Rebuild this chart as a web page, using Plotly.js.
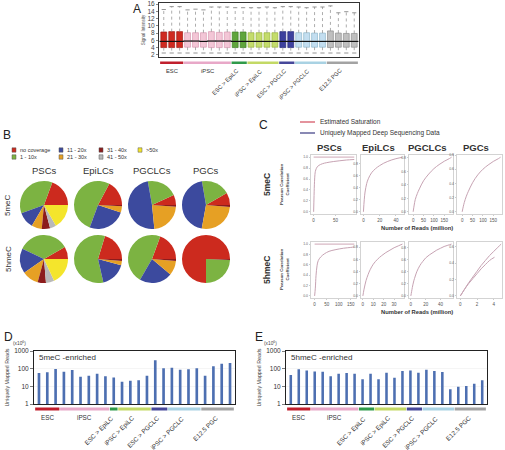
<!DOCTYPE html>
<html><head><meta charset="utf-8">
<script src="https://cdn.plot.ly/plotly-3.0.1.min.js"></script>
<style>body{margin:0;padding:0;background:#fff}#chart{width:505px;height:450px}</style>
</head><body><div id="chart"></div>
<script>
// ---------- Panel A: array signal intensity (box statistics) ----------
const groupNames = ["ESC","iPSC","ESC > EpiLC","iPSC > EpiLC","ESC > PGCLC","iPSC > PGCLC","E12.5 PGC"];
const groupColors = ['#c01f2d','#e8a8c8','#2f9a4a','#c3d965','#47489a','#a9d2e3','#a3a3a3'];
const boxFill = ['#cf2a20','#f3c6d6','#5fa53c','#c4dc6c','#3d409e','#c3def0','#bfbfbf'];
const boxEdge = ['#a01a14','#d89ab2','#3e7f25','#9ab63e','#25287a','#8fb7cc','#8e8e8e'];
const aGroupSizes = [3,6,2,4,2,4,4];
const aQ1     = [4.0,4.0,4.0, 4.1,4.1,4.1,4.0,4.0,4.0, 4.0,4.0, 4.1,4.1,4.1,4.1, 4.0,4.0, 4.1,4.1,4.1,4.1, 4.0,4.1,4.1,4.1];
const aMedian = [5.7,5.7,5.7, 5.8,5.8,5.7,5.8,5.8,5.8, 5.7,5.7, 5.7,5.7,5.7,5.7, 5.7,5.7, 5.7,5.7,5.7,5.7, 5.7,5.7,5.7,5.7];
const aQ3     = [8.3,8.4,8.4, 8.1,8.1,8.1,8.4,8.2,8.3, 8.3,8.3, 8.1,8.1,8.1,8.1, 8.4,8.4, 8.1,8.1,8.0,8.0, 8.6,8.0,7.9,7.9];
const aLower  = [2.5,2.5,2.5, 2.5,2.5,2.5,2.5,2.5,2.5, 2.5,2.5, 2.5,2.5,2.5,2.5, 2.5,2.5, 2.5,2.5,2.5,2.5, 2.5,2.5,2.5,2.5];
const aUpper  = [14.5,15.3,15.3, 14.4,14.6,14.4,15.2,15.2,15.2, 15.0,15.0, 15.0,15.0,15.2,15.0, 15.3,15.3, 15.2,15.0,15.2,15.2, 15.5,13.6,13.9,13.6];

// ---------- Panel B: coverage pies ----------
const coverageLabels = ["no coverage","1 - 10x","11 - 20x","21 - 30x","31 - 40x","41 - 50x",">50x"];
const coverageColors = ['#cc2a1e','#7cb342','#3c4a9e','#e6a024','#8c1c1c','#b9b9b9','#f4e52c'];
const pieColumns = ["PSCs","EpiLCs","PGCLCs","PGCs"];
const pieRows = ["5meC","5hmeC"];
const pscs5meC    = [19.4,36.1,11.1,6.9,5.6,4.2,16.7];
const epilcs5meC  = [17.2,52.2,25.6,4.2,0.8,0,0];
const pgclcs5meC  = [6.9,20.8,48.6,22.2,1.1,0,0];
const pgcs5meC    = [8.3,19.4,44.4,26.4,1.4,0,0];
const pscs5hmeC   = [8.3,34.7,16.7,11.1,5.6,5.6,18.1];
const epilcs5hmeC = [20.3,58.3,17.2,2.8,1.4,0,0];
const pgclcs5hmeC = [19.4,47.2,22.2,9.7,1.4,0,0];
const pgcs5hmeC   = [75.0,24.4,0,0,0.6,0,0];

// ---------- Panel C: saturation curves (reads in million, Pearson r) ----------
const satLevel = 1.0;
const c1x = [0,1,2,3,4,6,8,12,20,30,45,60,75,93];
const c1y = [0,0.3,0.55,0.68,0.74,0.79,0.82,0.85,0.88,0.9,0.92,0.935,0.948,0.958];
const c2x = [0,1,2,4,6,10,15,20,25,30,35,40,45,48];
const c2y = [0,0.2,0.33,0.47,0.55,0.65,0.72,0.77,0.81,0.84,0.865,0.885,0.9,0.91];
const c3x = [0,5,10,20,30,50,75,100,125,150,175,185];
const c3y = [0,0.1,0.18,0.27,0.34,0.46,0.56,0.64,0.7,0.75,0.79,0.81];
const c4x = [0,5,10,20,30,50,75,100,125,150,175,185];
const c4y = [0,0.07,0.13,0.22,0.29,0.41,0.52,0.6,0.66,0.71,0.75,0.77];
const c5x = [0,3,6,10,15,25,40,60,85,120,150,165];
const c5y = [0,0.15,0.4,0.58,0.68,0.75,0.81,0.86,0.89,0.92,0.935,0.945];
const c6x = [0,1,2,3,5,7,10,14,18,22,26,30,34,38];
const c6y = [0,0.1,0.18,0.25,0.35,0.43,0.52,0.6,0.66,0.71,0.75,0.79,0.82,0.85];
const c7x = [0,1,2,4,6,8,12,16,20,25,30,35,40,45,50,55];
const c7y = [0,0.07,0.14,0.25,0.33,0.4,0.5,0.57,0.63,0.68,0.72,0.76,0.79,0.82,0.84,0.86];
const c8x = [0,0.25,0.5,1,1.5,2,2.5,3,3.5,4,4.5,4.9];
const c8y = [0,0.04,0.08,0.16,0.23,0.3,0.37,0.43,0.49,0.54,0.59,0.63];
const c8bx = [0,0.25,0.5,1,1.5,2,2.5,3,3.5,4.1];
const c8by = [0,0.04,0.08,0.15,0.21,0.27,0.33,0.38,0.43,0.47];

// ---------- Panels D, E: uniquely mapped reads (x10^6) ----------
const dGroupSizes = [3,6,1,4,2,4,4];
const dReads = [57,62,95, 68,84,35,40,52,37, 32, 18,21,22,40, 296,104, 114,88,92,104, 40,135,192,209];
const eGroupSizes = [3,6,2,4,2,4,4];
const eReads = [44,92,80, 70,68,37,52,57,52, 25,52, 25,59,31,74, 80,59, 88,74,65,6.8, 9.6,10.4,14,22];

// ================= drawing =================
const W=505,H=450;
const fx=p=>p/W, fy=p=>1-p/H;
const FONT='Liberation Sans, Arial, Helvetica, sans-serif';
const traces=[], shapes=[], annotations=[];
const layout={width:W,height:H,margin:{l:0,r:0,t:0,b:0},paper_bgcolor:'#fff',plot_bgcolor:'rgba(0,0,0,0)',
  showlegend:false,font:{family:FONT,color:'#333'},shapes,annotations};

function txt(x,y,text,opt){annotations.push(Object.assign({xref:'paper',yref:'paper',x:fx(x),y:fy(y),text,showarrow:false,
  xanchor:'left',yanchor:'middle',font:{family:FONT,size:7,color:'#333'}},opt||{}));}

function groupOf(sizes){const g=[];sizes.forEach((n,k)=>{for(let i=0;i<n;i++)g.push(k);});return g;}

function groupBars(sizes,xref,yTopPx,hPx,labelFont,xshift){
  let s=0;
  sizes.forEach((n,g)=>{
    const e=s+n-1, c=(s+e)/2;
    shapes.push({type:'rect',xref:xref,yref:'paper',x0:s-0.46,x1:e+0.46,y0:fy(yTopPx+hPx),y1:fy(yTopPx),
      fillcolor:groupColors[g],line:{width:0}});
    if(g<2){
      annotations.push({xref:xref,yref:'paper',x:c,y:fy(yTopPx+hPx+1.5),text:groupNames[g],showarrow:false,
        xanchor:'center',yanchor:'top',font:{family:FONT,size:labelFont,color:'#333'}});
    } else {
      annotations.push({xref:xref,yref:'paper',x:c,xshift:xshift,y:fy(yTopPx+hPx+1),text:groupNames[g],showarrow:false,
        textangle:-45,xanchor:'right',yanchor:'top',font:{family:FONT,size:labelFont,color:'#333'}});
    }
    s+=n;
  });
}

// ----- Panel A -----
const aX=aQ1.map((_,i)=>i), aG=groupOf(aGroupSizes);
traces.push({type:'bar',x:aX,y:aQ3.map((v,i)=>v-aQ1[i]),base:aQ1,width:0.74,xaxis:'x',yaxis:'y',
  marker:{color:aG.map(g=>boxFill[g]),line:{color:aG.map(g=>boxEdge[g]),width:0.7}},hoverinfo:'skip'});
const wx=[],wy=[];
aX.forEach((x,i)=>{wx.push(x,x,null,x,x,null);wy.push(aQ3[i],aUpper[i],null,aQ1[i],aLower[i],null);});
traces.push({type:'scatter',mode:'lines',x:wx,y:wy,xaxis:'x',yaxis:'y',line:{color:'#8a8a8a',width:0.7,dash:'dot'},hoverinfo:'skip'});
traces.push({type:'scatter',mode:'markers',x:aX.concat(aX),y:aUpper.concat(aLower),xaxis:'x',yaxis:'y',
  marker:{symbol:'line-ew',size:3,line:{color:'#7a7a7a',width:0.8}},hoverinfo:'skip'});
traces.push({type:'scatter',mode:'markers',x:aX,y:aMedian,xaxis:'x',yaxis:'y',
  marker:{symbol:'line-ew',size:6,line:{color:'#111',width:1.2}},hoverinfo:'skip'});
layout.xaxis={domain:[fx(159),fx(359)],range:[-0.6,aQ1.length-0.4],showticklabels:false,ticks:'',showgrid:false,zeroline:false,
  showline:true,mirror:true,linecolor:'#333',linewidth:1,anchor:'y'};
layout.yaxis={domain:[fy(57),fy(3)],range:[1.4,16.3],tickvals:[2,4,6,8,10,12,14,16],ticks:'outside',ticklen:2,tickwidth:0.7,
  tickcolor:'#555',tickfont:{size:6.5,color:'#444',family:FONT},showgrid:false,zeroline:false,showline:true,mirror:true,
  linecolor:'#333',linewidth:1,anchor:'x',title:{text:'Signal Intensity',font:{size:4.5,color:'#555',family:FONT},standoff:1}};
groupBars(aGroupSizes,'x',61.5,2.5,5.8,3);
txt(131,9,'A',{font:{family:FONT,size:12,color:'#222'}});

// ----- Panel B -----
txt(1,135,'B',{font:{family:FONT,size:12,color:'#222'}});
const legCols=[12,59,99,138], legRows=[150,157];
coverageLabels.forEach((lab,i)=>{
  const cx=legCols[Math.floor(i/2)], cy=legRows[i%2];
  shapes.push({type:'rect',xref:'paper',yref:'paper',x0:fx(cx),x1:fx(cx+4),y0:fy(cy+2.2),y1:fy(cy-2.2),
    fillcolor:coverageColors[i],line:{color:'#555',width:0.5}});
  txt(cx+5.5,cy,lab,{font:{family:FONT,size:5.5,color:'#333'}});
});
const pieData=[[pscs5meC,epilcs5meC,pgclcs5meC,pgcs5meC],[pscs5hmeC,epilcs5hmeC,pgclcs5hmeC,pgcs5hmeC]];
const pieCx=[44,98,152,206], pieCy=[205,259], pieR=24;
pieColumns.forEach((t,c)=>txt(pieCx[c],170,t,{xanchor:'center',font:{family:FONT,size:9.5,color:'#333'}}));
pieRows.forEach((t,r)=>txt(8,pieCy[r],t,{xanchor:'center',textangle:-90,font:{family:FONT,size:8,color:'#333'}}));
pieData.forEach((row,r)=>row.forEach((vals,c)=>{
  const tot=vals.reduce((a,b)=>a+b,0);
  // first slice ("no coverage") ends at 3 o'clock; the others follow counterclockwise
  traces.push({type:'pie',labels:coverageLabels,values:vals,sort:false,direction:'counterclockwise',rotation:90-360*vals[0]/tot,
    textinfo:'none',hoverinfo:'skip',marker:{colors:coverageColors,line:{width:0}},
    domain:{x:[fx(pieCx[c]-pieR),fx(pieCx[c]+pieR)],y:[fy(pieCy[r]+pieR),fy(pieCy[r]-pieR)]}});
}));

// ----- Panel C -----
txt(257,125,'C',{font:{family:FONT,size:12,color:'#222'}});
shapes.push({type:'line',xref:'paper',yref:'paper',x0:fx(300),x1:fx(315),y0:fy(122),y1:fy(122),line:{color:'#d24a5c',width:1.2}});
shapes.push({type:'line',xref:'paper',yref:'paper',x0:fx(300),x1:fx(315),y0:fy(133),y1:fy(133),line:{color:'#3b3b82',width:1.2}});
txt(318,122,'Estimated Saturation',{font:{family:FONT,size:6.5,color:'#333'}});
txt(318,133,'Uniquely Mapped Deep Sequencing Data',{font:{family:FONT,size:6.5,color:'#333'}});
const cCols=[[311,356],[361,404],[409,453],[457,502]], cRowsPx=[[155,214],[242,298]];
const cPanels=[
  {curves:[[c1x,c1y]],sat:true,xr:[-6,97],xt:[0,50]},
  {curves:[[c2x,c2y]],sat:false,xr:[-3,50],xt:[0,20,40]},
  {curves:[[c3x,c3y]],sat:false,xr:[-20,192],xt:[0,50,100,150]},
  {curves:[[c4x,c4y]],sat:false,xr:[-25,192],xt:[0,50,100,150]},
  {curves:[[c5x,c5y]],sat:true,xr:[-15,172],xt:[0,50,100,150]},
  {curves:[[c6x,c6y]],sat:false,xr:[-1.8,39.5],xt:[0,10,20,30]},
  {curves:[[c7x,c7y]],sat:false,xr:[-2.5,57],xt:[0,20,40]},
  {curves:[[c8x,c8y],[c8bx,c8by]],sat:false,xr:[-0.4,5.0],xt:[0,2,4]}
];
pieColumns.forEach((t,c)=>txt((cCols[c][0]+cCols[c][1])/2-4,147,'<b>'+t+'</b>',{xanchor:'center',font:{family:FONT,size:9.5,color:'#333'}}));
const cRowCenters=[185,270];
pieRows.forEach((t,r)=>{
  txt(267,cRowCenters[r],'<b>'+t+'</b>',{xanchor:'center',textangle:-90,font:{family:FONT,size:8.5,color:'#333'}});
  txt(284,cRowCenters[r],'<b>Pearson Correlation<br>Coefficient</b>',{xanchor:'center',textangle:-90,font:{family:FONT,size:4.3,color:'#444'}});
  txt(417,cRowsPx[r][1]+14,'<b>Number of Reads (million)</b>',{xanchor:'center',font:{family:FONT,size:5.8,color:'#333'}});
});
cPanels.forEach((p,i)=>{
  const k=i+2, r=Math.floor(i/4), c=i%4;
  let ymax=0; p.curves.forEach(cv=>cv[1].forEach(v=>{if(v>ymax)ymax=v;}));
  if(p.sat) ymax=Math.max(ymax,satLevel);
  if(p.sat){
    traces.push({type:'scatter',mode:'lines',x:[p.curves[0][0][0],p.curves[0][0][p.curves[0][0].length-1]],y:[satLevel,satLevel],
      xaxis:'x'+k,yaxis:'y'+k,line:{color:'#d8b8c4',width:1.3},hoverinfo:'skip',cliponaxis:false});
  }
  p.curves.forEach(cv=>{
    traces.push({type:'scatter',mode:'lines',x:cv[0],y:cv[1],xaxis:'x'+k,yaxis:'y'+k,line:{color:'#c7a3b3',width:1,shape:'spline'},hoverinfo:'skip'});
  });
  const ax={showgrid:false,zeroline:false,showline:true,mirror:true,linecolor:'#c8c8c8',linewidth:0.8,ticks:'outside',
    ticklen:1.5,tickwidth:0.5,tickcolor:'#999',tickfont:{size:4.5,color:'#555',family:FONT}};
  layout['xaxis'+k]=Object.assign({},ax,{domain:[fx(cCols[c][0]),fx(cCols[c][1])],range:p.xr,tickvals:p.xt,anchor:'y'+k});
  layout['yaxis'+k]=Object.assign({},ax,{domain:[fy(cRowsPx[r][1]),fy(cRowsPx[r][0])],range:[-0.04*ymax,ymax*1.04],
    tickvals:[0,0.2,0.4,0.6,0.8,1.0],tickformat:'.1f',anchor:'x'+k,tickfont:{size:3.5,color:'#666',family:FONT}});
});

// ----- Panels D and E -----
function readsPanel(k,vals,sizes,x0,x1,letter,letterX,label){
  const xr=[-0.6,vals.length-0.4];
  traces.push({type:'bar',x:vals.map((_,i)=>i),y:vals,width:0.32,xaxis:'x'+k,yaxis:'y'+k,marker:{color:'#4d6fb1',line:{width:0}},hoverinfo:'skip'});
  layout['xaxis'+k]={domain:[fx(x0),fx(x1)],range:xr,showticklabels:false,ticks:'',showgrid:false,zeroline:false,
    showline:true,mirror:true,linecolor:'#222',linewidth:1,anchor:'y'+k};
  layout['yaxis'+k]={domain:[fy(404),fy(351)],type:'log',range:[0,3],tickvals:[1,10,100,1000],ticktext:['1','10','100','1000'],
    ticks:'outside',ticklen:3,tickwidth:0.7,tickcolor:'#444',tickfont:{size:6.5,color:'#333',family:FONT},
    showgrid:true,gridcolor:'#eeeeee',gridwidth:0.6,zeroline:false,showline:true,mirror:true,linecolor:'#222',linewidth:1,anchor:'x'+k,
    title:{text:'Uniquely Mapped Reads',font:{size:5.3,color:'#444',family:FONT},standoff:4}};
  groupBars(sizes,'x'+k,407.5,3,6.3,4);
  txt(letterX,337,letter,{font:{family:FONT,size:12,color:'#222'}});
  txt(letterX+9,343,'(x10<sup>6</sup>)',{font:{family:FONT,size:4.8,color:'#444'}});
  annotations.push({xref:'x'+k,yref:'paper',x:-0.2,y:fy(357),text:label,showarrow:false,xanchor:'left',yanchor:'middle',
    font:{family:FONT,size:8,color:'#333'}});
}
readsPanel(10,dReads,dGroupSizes,34,235,'D',2,'5meC -enriched');
readsPanel(11,eReads,eGroupSizes,286,487,'E',253,'5hmeC -enriched');

Plotly.newPlot('chart',traces,layout,{staticPlot:true,displayModeBar:false});
</script></body></html>
